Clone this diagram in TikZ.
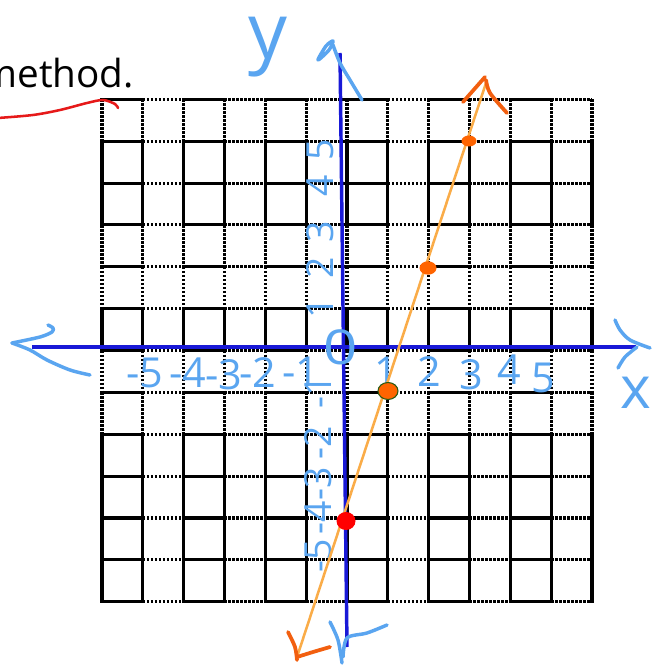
\documentclass[tikz,border=0pt]{standalone}
\usepackage{fontspec}
\setmainfont{Open Sans}
\definecolor{hblue}{RGB}{90,165,240}
\definecolor{axblue}{RGB}{25,25,215}
\definecolor{lorange}{RGB}{250,172,72}
\definecolor{dorange}{RGB}{242,95,15}
\definecolor{dotorange}{RGB}{255,100,0}
\definecolor{ured}{RGB}{230,25,25}
\definecolor{dgreen}{RGB}{40,90,20}
\begin{document}
\begin{tikzpicture}[x=0.75pt,y=-0.75pt,
  gsolid/.style={line width=2.3pt, black, line cap=rect},
  gdot/.style={line width=2.3pt, black, dash pattern=on 2pt off 1pt},
  axisline/.style={line width=2.6pt, axblue},
  hand/.style={line width=2.6pt, hblue, line cap=round, line join=round},
  ohand/.style={line width=2.8pt, dorange, line cap=round, line join=round},
  oline/.style={line width=1.9pt, lorange},
  numlbl/.style={hblue, inner sep=0pt, font=\fontsize{31}{31}\selectfont},
  ynumlbl/.style={numlbl, rotate=90, font=\fontsize{28}{28}\selectfont},
]
\useasboundingbox (0,0) rectangle (667,666);
\clip (0,0) rectangle (667,666);
\fill[white] (0,0) rectangle (667,666);

% ---- grid: horizontal segments
\foreach \j in {0,...,12}{
  \pgfmathsetmacro\yy{99.3+41.87*\j}
  \foreach \i in {0,2,...,10}{
    \pgfmathsetmacro\xa{102+40.83*\i}
    \pgfmathsetmacro\xb{\xa+40.83}
    \draw[gsolid] (\xa,\yy) -- (\xb,\yy);
  }
  \foreach \i in {1,3,...,11}{
    \pgfmathsetmacro\xa{102+40.83*\i}
    \pgfmathsetmacro\xb{\xa+40.83}
    \draw[gdot] (\xa,\yy) -- (\xb,\yy);
  }
}
% ---- grid: vertical segments
\foreach \r in {1,2,5,8,9,10,11}{
  \pgfmathsetmacro\ya{99.3+41.87*\r}
  \pgfmathsetmacro\yb{\ya+41.87}
  \foreach \i in {0,...,12}{
    \pgfmathsetmacro\xx{102+40.83*\i}
    \draw[gsolid] (\xx,\ya) -- (\xx,\yb);
  }
}
\foreach \r in {0,3,4,6,7}{
  \pgfmathsetmacro\ya{99.3+41.87*\r}
  \pgfmathsetmacro\yb{\ya+41.87}
  \foreach \i in {0,...,12}{
    \pgfmathsetmacro\xx{102+40.83*\i}
    \draw[gdot] (\xx,\ya) -- (\xx,\yb);
  }
}

% ---- title fragment and red underline
\node[font=\fontsize{29}{29}\selectfont, anchor=base east, inner sep=0pt] (meth) at (134,88) {method.};
\draw[line width=1.9pt, ured, line cap=round] plot[smooth] coordinates {(-2,118) (33,115) (60,110) (87,103) (103,100) (115,104) (118,108)};

% ---- axes
\coordinate (xl) at (32,347);
\coordinate (xr) at (636,347);
\coordinate (yt) at (340,53);
\coordinate (yb) at (347,647);
\draw[axisline] (xl) -- (xr);
\draw[axisline] (yt) -- (yb);

% ---- hand-drawn arrowheads (blue)
\draw[hand] plot[smooth] coordinates {(48,325) (53,328) (52,332) (40,337) (12,343)};
\draw[hand] plot[smooth] coordinates {(12,343) (30,350) (47,360) (70,370) (90,375)};
\draw[hand] plot[smooth] coordinates {(615,320) (620,330) (630,340) (650,348)};
\draw[hand] plot[smooth] coordinates {(637,347) (625,357) (618,368)};
\draw[hand] plot[smooth cycle] coordinates {(318,60) (326,46) (333,41) (329,50)};
\draw[hand] plot[smooth] coordinates {(333,45) (340,63) (350,80) (362,100)};
\draw[hand] plot[smooth] coordinates {(330,622) (338,640) (342,663)};
\draw[hand] plot[smooth] coordinates {(343,657) (347,638) (367,633) (387,625)};

% ---- axis names
\node[hblue, inner sep=0pt, font=\fontsize{58}{58}\selectfont] (ylab) at (268,47) {y};
\node[hblue, inner sep=0pt, font=\fontsize{44}{44}\selectfont] (xlab) at (636,393) {x};

% ---- x axis numbers
\node[numlbl] (xm5) at (145,373) {-5};
\node[numlbl] (xm4) at (188,373) {-4};
\node[numlbl] (xm3) at (224,375) {-3};
\node[numlbl] (xm2) at (258,373) {-2};
\node[numlbl] (xm1) at (301,372) {-1};
\node[hblue, inner sep=0pt, xscale=1.25, font=\fontsize{36}{36}\selectfont] (zero) at (341,347) {0};
\node[numlbl] (xp1) at (386,372) {1};
\node[numlbl] (xp2) at (429,372) {2};
\node[numlbl] (xp3) at (471,375) {3};
\node[numlbl] (xp4) at (509,370) {4};
\node[numlbl] (xp5) at (543,378) {5};

% ---- y axis numbers (written sideways)
\node[ynumlbl] (yp5) at (320,150) {5};
\node[ynumlbl] (yp4) at (320,186) {4};
\node[ynumlbl] (yp3) at (320,232) {3};
\node[ynumlbl] (yp2) at (320,268) {2};
\node[ynumlbl] (yp1) at (320,308) {1};
\node[ynumlbl] (ym1) at (318,392) {-1};
\node[ynumlbl] (ym2) at (318,443) {-2};
\node[ynumlbl] (ym3) at (318,484) {-3};
\node[ynumlbl] (ym4) at (318,518) {-4};
\node[ynumlbl] (ym5) at (318,556) {-5};

% ---- the line y = 3x - 4
\coordinate (lb) at (296,660);
\coordinate (lt) at (487,80);
\draw[oline] (lb) -- (lt);
\draw[ohand] (463,102) -- (485,77);
\draw[ohand] plot[smooth] coordinates {(486,80) (490,93) (507,113)};
\draw[ohand] plot[smooth] coordinates {(288,632) (295,647) (297,660)};
\draw[ohand] plot[smooth] coordinates {(297,657) (313,652) (330,647)};

% ---- plotted points
\fill[dotorange] (469,141) ellipse [x radius=7.5, y radius=5.5];
\fill[dotorange] (428,268) ellipse [x radius=8.5, y radius=6.7];
\filldraw[fill=dotorange, draw=dgreen, line width=0.8pt] (388,391) ellipse [x radius=10, y radius=8.5];
\fill[red] (346,521) ellipse [x radius=9.5, y radius=9];
\end{tikzpicture}
\end{document}
